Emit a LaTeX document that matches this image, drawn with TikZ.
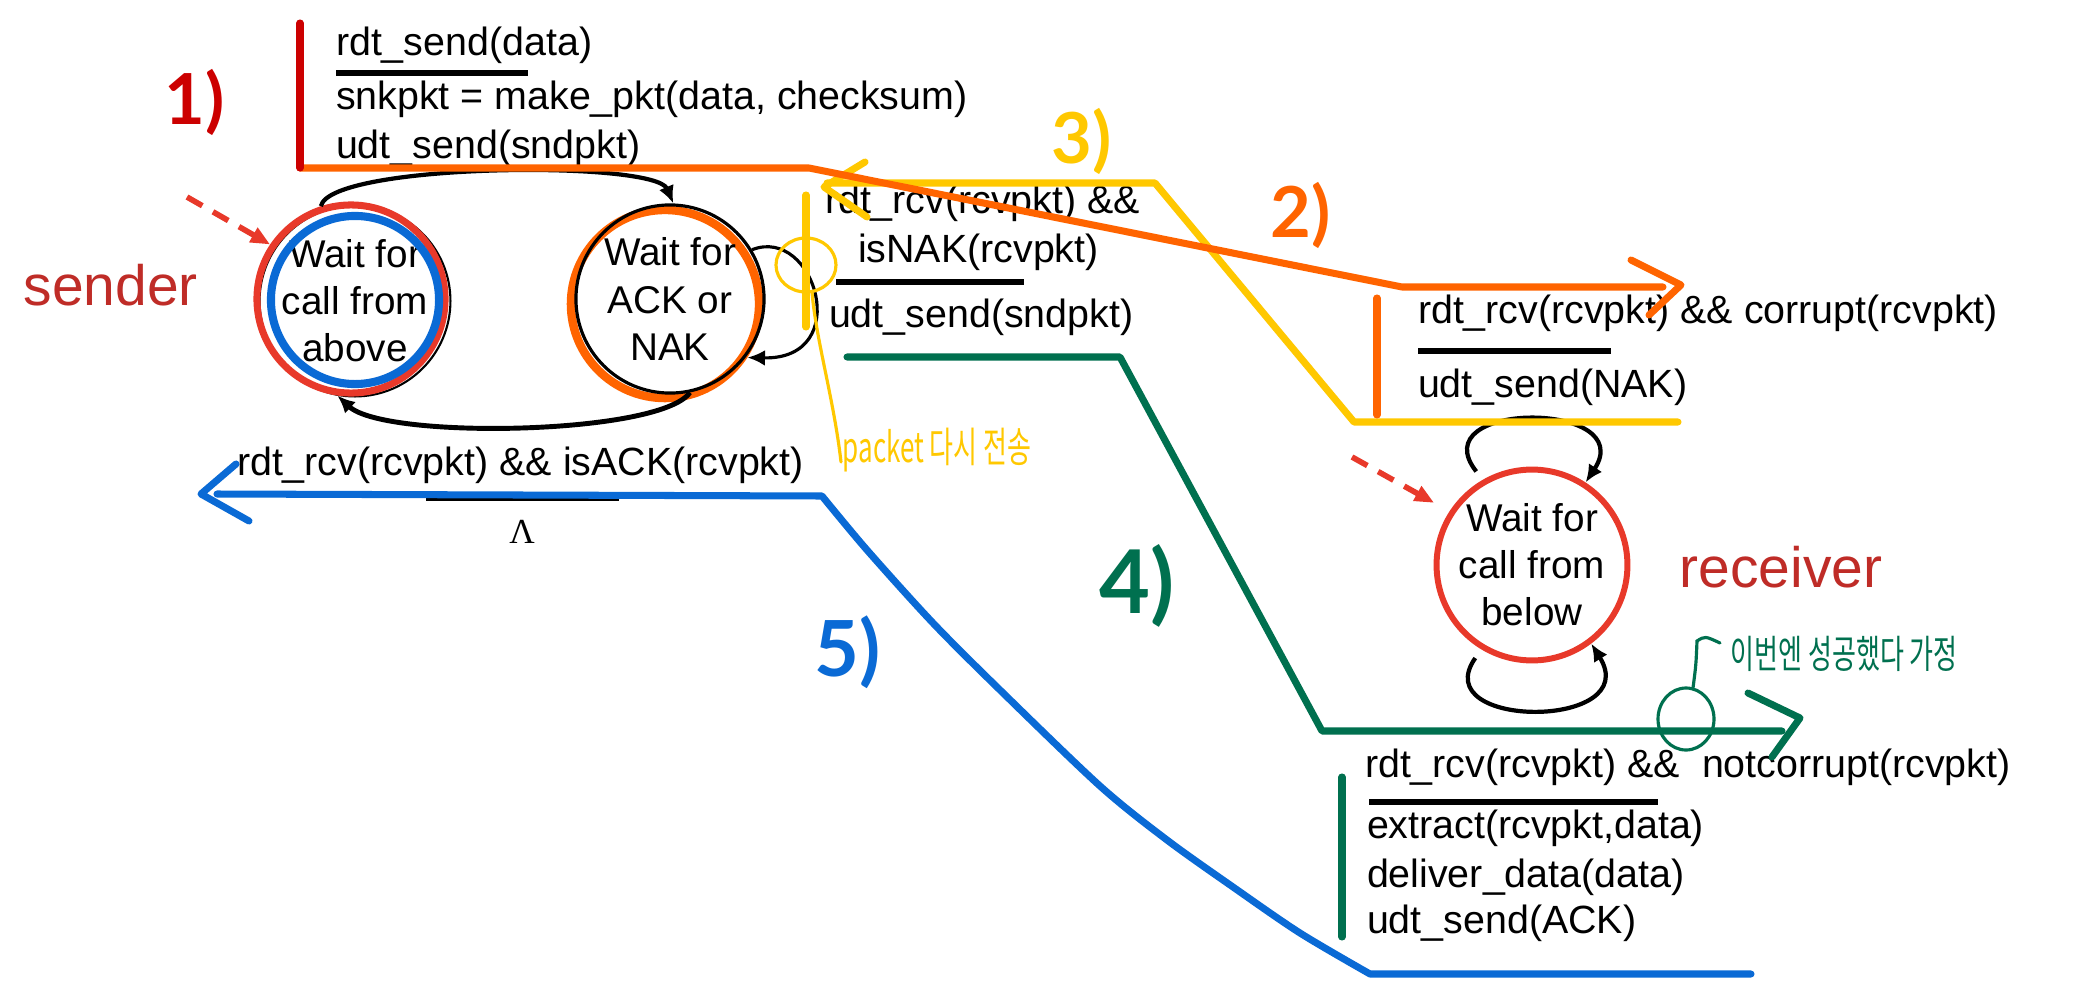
\documentclass[tikz,border=0pt]{standalone}
\usepackage{fontspec}
\usepackage{graphicx}
\setmainfont{Liberation Sans}
\newfontfamily\krhand{Noto Sans CJK KR}
\newfontfamily\grserif{Liberation Serif}
\newfontfamily\numfam{Lato}
\usetikzlibrary{arrows.meta}
\definecolor{barred}{HTML}{CC0000}
\definecolor{ringred}{HTML}{E8392A}
\definecolor{sidered}{HTML}{BF2C27}
\definecolor{annorange}{HTML}{FF6400}
\definecolor{annyellow}{HTML}{FFC800}
\definecolor{anngreen}{HTML}{00704F}
\definecolor{annblue}{HTML}{0A6AD5}
\newcommand\rdtcode{\fontsize{11.2pt}{13.4pt}\selectfont}
\newcommand\rdtstate{\fontsize{11pt}{13.4pt}\selectfont}
\newcommand\rdtside{\fontsize{16.2pt}{19pt}\selectfont}
\newcommand\rdtnum{\numfam\bfseries\fontsize{20pt}{24pt}\selectfont}
\newcommand\rdthand{\krhand\fontsize{7.4pt}{9pt}\selectfont}
\begin{document}
\begin{tikzpicture}[x=0.01cm, y=-0.01cm,
  code/.style={font=\rdtcode, anchor=base west, inner sep=0pt, outer sep=0pt},
  statebox/.style={circle, inner sep=0pt, font=\rdtstate, align=center},
  ring/.style={circle, inner sep=0pt},
  bar/.style={line width=1.5pt},
  ann/.style={line width=2pt, line cap=round, line join=round},
  thinann/.style={line width=0.9pt, line cap=round},
  trans/.style={line width=1.2pt, -{Latex[length=5pt,width=4.5pt]}},
  initarr/.style={ringred, line width=1.6pt, dash pattern=on 5pt off 3.5pt, -{Triangle[length=5.5pt,width=4.5pt]}},
  numlabel/.style={font=\rdtnum, inner sep=0pt},
  hand/.style={inner sep=0pt, anchor=west},
  side/.style={font=\rdtside, text=sidered, anchor=base west, inner sep=0pt},
]
\useasboundingbox (0,0) rectangle (2081,1000);
\fill[white] (0,0) rectangle (2081,1000);

% ---------- sender states ----------
\node[statebox, draw=black, line width=0.6pt, minimum size=1.68cm] (s1) at (355,301) {Wait for\\call from\\above};
\node[ring, draw=ringred, line width=2pt, minimum size=1.88cm] (s1red) at (351,299) {};
\node[ring, draw=annblue, line width=2.3pt, minimum size=1.68cm] (s1blue) at (355,300) {};

\node[ring, draw=annorange, line width=2.4pt, minimum size=1.88cm] (s2o) at (665,304) {};
\node[statebox, draw=black, line width=0.9pt, minimum size=1.88cm] (s2) at (670,299) {Wait for\\ACK or\\NAK};

% ---------- receiver state ----------
\node[statebox, draw=ringred, line width=1.7pt, minimum size=1.88cm] (r1) at (1532,565) {Wait for\\call from\\below};

% ---------- side labels ----------
\node[side] (sender) at (23,305) {sender};
\node[side] (receiver) at (1679,587) {receiver};

% ---------- initial arrows ----------
\coordinate (initS) at (187,197);
\coordinate (initR) at (1352,457);
\draw[initarr] (initS) -- (s1red.146);
\draw[initarr, shorten >=5pt] (initR) -- (r1.147);

% ---------- sender transitions ----------
\draw[trans] (s1red.108) .. controls (330,163) and (655,160) .. (s2.88);
\draw[trans, line width=0.9pt] (s2.31) .. controls (815,225) and (855,360) .. (s2o.-33);
\draw[trans, line width=1.4pt] (s2.-78) .. controls (660,435) and (385,440) .. (s1red.-98);

% ---------- receiver transitions ----------
\draw[trans, shorten <=3pt] (r1.120) .. controls (1420,400) and (1640,400) .. (r1.57);
\draw[trans, shorten <=3pt] (r1.-121) .. controls (1425,730) and (1645,730) .. (r1.-53);

% ---------- transition labels ----------
\node[code] (a1) at (336,55) {rdt\_send(data)};
\draw[bar] (336,73) -- (528,73);
\node[code] (a2) at (336,110) {snkpkt = make\_pkt(data, checksum)};
\node[code] (a3) at (336,158) {udt\_send(sndpkt)};

\node[code] (b1) at (825,213) {rdt\_rcv(rcvpkt) \&\&};
\node[code] (b2) at (858,262) {isNAK(rcvpkt)};
\draw[bar] (836,282) -- (1024,282);
\node[code] (b3) at (829,327) {udt\_send(sndpkt)};

\node[code] (c1) at (237,475) {rdt\_rcv(rcvpkt) \&\& isACK(rcvpkt)};
\draw[bar] (426,498) -- (619,498);
\node[font=\grserif\fontsize{10pt}{12pt}\selectfont, anchor=base, inner sep=0pt] (c2) at (522,543) {Λ};

\node[code] (d1) at (1418,323) {rdt\_rcv(rcvpkt) \&\& corrupt(rcvpkt)};
\draw[bar] (1418,351) -- (1611,351);
\node[code] (d2) at (1418,397) {udt\_send(NAK)};

\node[code] (e1) at (1365,777) {rdt\_rcv(rcvpkt) \&\&\ \ notcorrupt(rcvpkt)};
\draw[bar] (1369,802) -- (1658,802);
\node[code] (e2) at (1367,838) {extract(rcvpkt,data)};
\node[code] (e3) at (1367,887) {deliver\_data(data)};
\node[code] (e4) at (1367,933) {udt\_send(ACK)};

% ---------- annotations ----------
% 5) blue
\draw[ann, annblue] (1751,974) -- (1370,974) -- plot[smooth, tension=0.5] coordinates {(1370,974) (1300,933) (1233,887) (1167,840) (1100,786) (1000,690) (933,623) (867,550) (822,496)} -- (217,494);
\draw[ann, annblue] (236,464) -- (201,494) -- (249,521);
\node[numlabel, text=annblue, font=\numfam\bfseries\fontsize{22pt}{26pt}\selectfont] (n5) at (848,652) {5)};

% 4) green
\draw[ann, anngreen] (847,357) -- (1120,357) -- (1322,731) -- (1782,731);
\draw[ann, anngreen] (1748,693) -- (1800,718) -- (1772,757);
\draw[ann, anngreen] (1342,777) -- (1342,937);
\node[numlabel, text=anngreen, font=\numfam\bfseries\fontsize{25pt}{30pt}\selectfont] (n4) at (1137,586) {4)};
\draw[thinann, anngreen] (1686,719) ellipse [x radius=28, y radius=31];
\draw[thinann, anngreen] (1693,688) .. controls (1696,665) .. (1697,641) .. controls (1705,636) .. (1720,643);
\node[hand, text=anngreen] (k2) at (1730,654) {\scalebox{1}[1.5]{\rdthand 이번엔 성공했다 가정}};

% 3) yellow
\draw[ann, annyellow] (827,183) -- (1155,183) -- (1354,422) -- (1678,422);
\draw[ann, annyellow] (865,162) -- (824,187) -- (867,217);
\draw[ann, annyellow] (806,195) -- (806,327);
\draw[thinann, annyellow] (806,265) ellipse [x radius=30, y radius=27];
\draw[thinann, annyellow] (812,292) .. controls (816,340) and (834,400) .. (841,462);
\node[hand, text=annyellow] (k1) at (842,450) {\scalebox{1}[1.6]{\rdthand packet 다시 전송}};
\node[numlabel, text=annyellow] (n3) at (1082,141) {3)};

% 2) orange
\draw[ann, annorange] (300,168) -- (809,168) -- (1402,287) -- (1663,287);
\draw[ann, annorange] (1631,260) -- (1681,285) -- (1649,315);
\draw[ann, annorange] (1377,298) -- (1377,415);
\node[numlabel, text=annorange] (n2) at (1301,215) {2)};

% 1) red
\draw[ann, barred] (300,23) -- (300,168);
\node[numlabel, text=barred] (n1) at (195,102) {1)};
\end{tikzpicture}
\end{document}
